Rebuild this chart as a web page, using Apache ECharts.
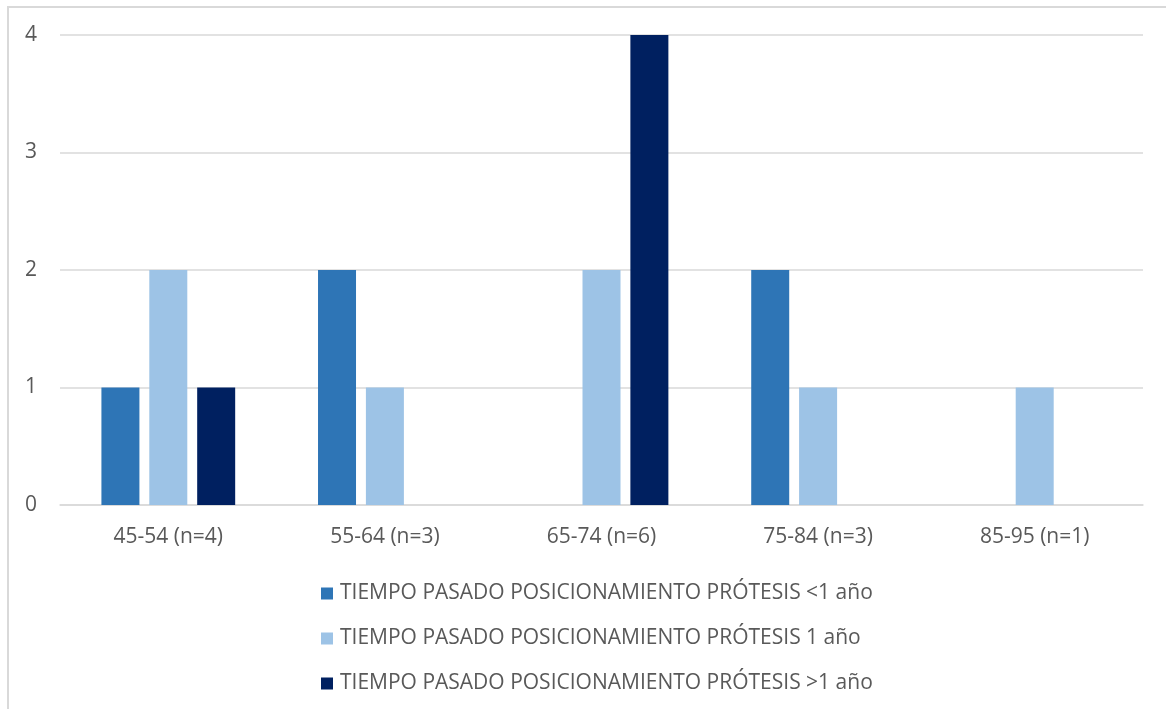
<!DOCTYPE html>
<html>
<head>
<meta charset="utf-8">
<script src="https://cdn.jsdelivr.net/npm/echarts@6/dist/echarts.min.js"></script>
<style>
  html, body { margin: 0; padding: 0; background: #fff; }
  #frame { position: absolute; left: 7px; top: 6px; width: 1200px; height: 740px; border: 2px solid #d9d9d9; box-sizing: border-box; }
  #chart { position: absolute; left: 0; top: 0; width: 1166px; height: 709px; }
</style>
</head>
<body>
<div id="frame"></div>
<div id="chart"></div>
<script>
const categories = ['45-54 (n=4)', '55-64 (n=3)', '65-74 (n=6)', '75-84 (n=3)', '85-95 (n=1)']
const seriesNames = [
    'TIEMPO PASADO POSICIONAMIENTO PRÓTESIS <1 año',
    'TIEMPO PASADO POSICIONAMIENTO PRÓTESIS 1 año',
    'TIEMPO PASADO POSICIONAMIENTO PRÓTESIS >1 año',
]
const lessThanOne = [1, 2, 0, 2, 0]
const oneYear = [2, 1, 2, 1, 1]
const moreThanOne = [1, 0, 4, 0, 0]
const colors = ['#2E75B6', '#9DC3E6', '#002060']

const textColor = '#595959'
const font = 'Open Sans'

const chart = echarts.init(document.getElementById('chart'), null, { renderer: 'canvas' })

const dataSets = [lessThanOne, oneYear, moreThanOne]

chart.setOption({
    animation: false,
    grid: { left: 60, right: 23, top: 35, bottom: 204 },
    legend: {
        orient: 'vertical',
        left: 316,
        top: 578,
        itemWidth: 12,
        itemHeight: 12,
        itemGap: 24,
        icon: 'rect',
        textStyle: { fontFamily: font, fontSize: 21, color: textColor, padding: [0, 0, 0, 2] },
        data: seriesNames,
    },
    xAxis: {
        type: 'category',
        data: categories,
        axisTick: { show: false },
        axisLine: { lineStyle: { color: '#d9d9d9', width: 1.5 } },
        axisLabel: { color: textColor, fontSize: 21, margin: 22, fontFamily: font },
    },
    yAxis: {
        type: 'value',
        min: 0,
        max: 4,
        interval: 1,
        axisLine: { show: false },
        axisTick: { show: false },
        axisLabel: { color: textColor, fontSize: 21, margin: 23, fontFamily: font },
        splitLine: { lineStyle: { color: '#d9d9d9', width: 1.5 } },
    },
    series: seriesNames.map((name, i) => ({
        name,
        type: 'bar',
        data: dataSets[i],
        barWidth: 38,
        barGap: '26%',
        itemStyle: { color: colors[i] },
    })),
})
</script>
</body>
</html>
